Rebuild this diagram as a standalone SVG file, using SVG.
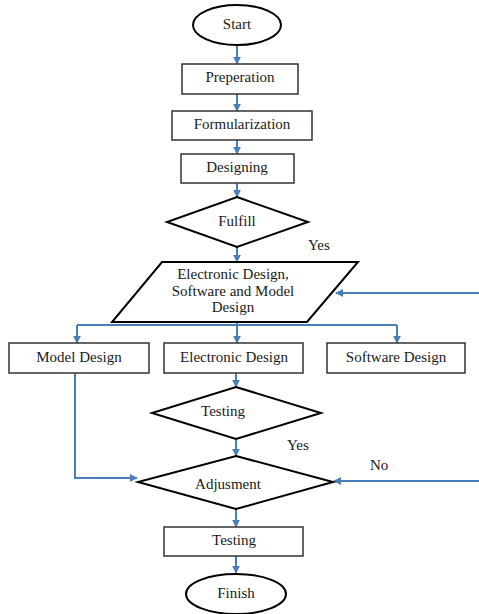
<svg xmlns="http://www.w3.org/2000/svg" width="479" height="614" viewBox="0 0 479 614">
<style>
text{font-family:'Liberation Serif','DejaVu Serif',serif;font-size:15px;fill:#1a1a1a;text-anchor:middle;dominant-baseline:middle}
.box{fill:#fff;stroke:#333;stroke-width:1.5}
.shape{fill:#fff;stroke:#000;stroke-width:2}
.con{fill:none;stroke:#4a7ebb;stroke-width:2}
.lbl{text-anchor:start}
</style>
<defs>
<marker id="ah" viewBox="0 0 10 10" refX="9" refY="5" markerWidth="4" markerHeight="4" orient="auto" markerUnits="strokeWidth">
<path d="M0,0 L10,5 L0,10 z" fill="#4a7ebb"/>
</marker>
</defs>
<rect width="479" height="614" fill="#fff"/>
<g id="connectors">
<path class="con" d="M237,45 V64" marker-end="url(#ah)"/>
<path class="con" d="M237,94 V111" marker-end="url(#ah)"/>
<path class="con" d="M237,140 V154" marker-end="url(#ah)"/>
<path class="con" d="M237,183 V197" marker-end="url(#ah)"/>
<path class="con" d="M237,247 V262" marker-end="url(#ah)"/>
<path class="con" d="M479,293 H336" marker-end="url(#ah)"/>
<path class="con" d="M77,325 H397"/>
<path class="con" d="M77,325 V343" marker-end="url(#ah)"/>
<path class="con" d="M397,325 V343" marker-end="url(#ah)"/>
<path class="con" d="M237,322 V343" marker-end="url(#ah)"/>
<path class="con" d="M236,373 V387" marker-end="url(#ah)"/>
<path class="con" d="M236,439 V456" marker-end="url(#ah)"/>
<path class="con" d="M75,373 V478 H137" marker-end="url(#ah)"/>
<path class="con" d="M479,481 H334" marker-end="url(#ah)"/>
<path class="con" d="M236,509 V527" marker-end="url(#ah)"/>
<path class="con" d="M236,556 V573" marker-end="url(#ah)"/>
</g>
<g id="start"><ellipse class="shape" cx="237" cy="25" rx="44" ry="20"/><text x="237" y="26">Start</text></g>
<g id="preperation"><rect class="box" x="182" y="64" width="116" height="30"/><text x="240" y="79">Preperation</text></g>
<g id="formularization"><rect class="box" x="172" y="111" width="140" height="29"/><text x="242" y="126">Formularization</text></g>
<g id="designing"><rect class="box" x="181" y="154" width="113" height="29"/><text x="237" y="169">Designing</text></g>
<g id="fulfill"><polygon class="shape" points="237,197 308,222 237,247 167,222"/><text x="237" y="223">Fulfill</text></g>
<text class="lbl" x="308" y="247">Yes</text>
<g id="design-all"><polygon class="shape" points="162,262 358,262 307,322 112,322"/>
<text x="233" y="276">Electronic Design,</text><text x="233" y="293">Software and Model</text><text x="233" y="309">Design</text></g>
<g id="model-design"><rect class="box" x="9" y="343" width="140" height="30"/><text x="79" y="359">Model Design</text></g>
<g id="electronic-design"><rect class="box" x="164" y="343" width="139" height="30"/><text x="234" y="359">Electronic Design</text></g>
<g id="software-design"><rect class="box" x="327" y="343" width="138" height="30"/><text x="396" y="359">Software Design</text></g>
<g id="testing-decision"><polygon class="shape" points="236,387 321,413 236,439 152,413"/><text x="223" y="413">Testing</text></g>
<text class="lbl" x="287" y="447">Yes</text>
<g id="adjusment"><polygon class="shape" points="236,456 333,482 236,509 138,482"/><text x="228" y="486">Adjusment</text></g>
<text class="lbl" x="370" y="467">No</text>
<g id="testing"><rect class="box" x="164" y="527" width="139" height="29"/><text x="234" y="542">Testing</text></g>
<g id="finish"><ellipse class="shape" cx="236" cy="594" rx="50" ry="20"/><text x="236" y="595">Finish</text></g>
</svg>
